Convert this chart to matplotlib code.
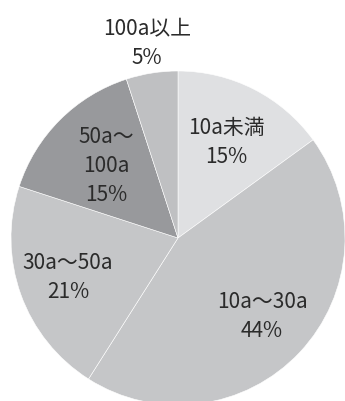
import numpy as np
import matplotlib
import matplotlib.pyplot as plt

matplotlib.use("Agg")

plt.rcParams["font.family"] = ["Noto Sans CJK JP", "DejaVu Sans"]

# farm size classes and their share (%)
categories = ["10a未満", "10a～30a", "30a～50a", "50a～\n100a", "100a以上"]
shares = [15, 44, 21, 15, 5]
colors = ["#dfe0e2", "#c5c6c8", "#c5c6c8", "#98999c", "#bfc0c2"]
label_dist = [0.64, 0.69, 0.70, 0.61, 1.18]

fig = plt.figure(figsize=(3.45, 4.01), dpi=100)
cx, cy, r = 178, 238, 167
ax = fig.add_axes([(cx - r) / 345, (401 - cy - r) / 401, 2 * r / 345, 2 * r / 401])

wedges, _ = ax.pie(
    shares,
    colors=colors,
    startangle=90,
    counterclock=False,
    radius=1,
    wedgeprops=dict(edgecolor="white", linewidth=0.4),
)
for w in wedges:
    w.set_clip_on(False)

for w, name, share, d in zip(wedges, categories, shares, label_dist):
    mid = np.deg2rad((w.theta1 + w.theta2) / 2)
    ax.text(d * np.cos(mid), d * np.sin(mid), f"{name}\n{share}%",
            ha="center", va="center", fontsize=15, color="#2b2b2b",
            linespacing=1.4)

ax.set_xlim(-1, 1)
ax.set_ylim(-1, 1)
ax.set_aspect("auto")
ax.axis("off")

fig.savefig("out.png", dpi=100, facecolor="white")
plt.close(fig)
